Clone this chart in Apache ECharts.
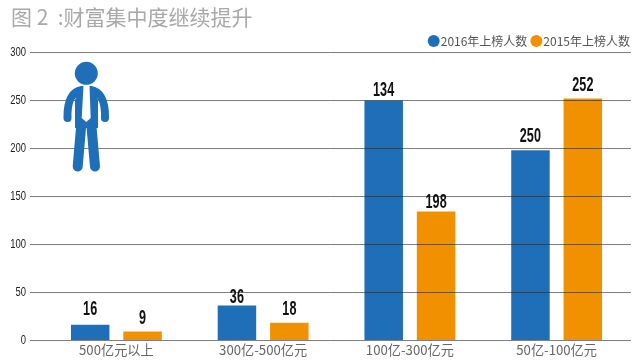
<!DOCTYPE html>
<html><head><meta charset="utf-8">
<style>html,body{margin:0;padding:0;background:#fff}#c{width:640px;height:362px}</style>
<script src="https://cdn.jsdelivr.net/npm/echarts@6/dist/echarts.min.js"></script>
</head><body><div id="c"></div>
<script>
const categories = ['500亿元以上','300亿-500亿元','100亿-300亿元','50亿-100亿元'];
const seriesNames = ['2016年上榜人数','2015年上榜人数'];
const heights2016 = [16,36,250,198];
const heights2015 = [9,18,134,252];
const labels2016 = ['16','36','134','250'];
const labels2015 = ['9','18','198','252'];
const yTicks = [0,50,100,150,200,250,300];
const BLUE='#1f6fb8', ORANGE='#f29100';
const CJK='"Noto Sans CJK SC","Noto Sans",sans-serif';
const SANS='"Liberation Sans",sans-serif';
const gridTop=52.5, gridH=287.5;
const chart=echarts.init(document.getElementById('c'),null,{renderer:'canvas'});
const fig='#1f6fb8';
// gap in px between each bar top and its label's digits, as hand-placed in the original
const gap2016=[8,1,3,7], gap2015=[6,6,2,6.5];
const DESCENT=3;
const valueLabels=(vals,labels,dx,gaps)=>({
  type:'custom',xAxisIndex:1,yAxisIndex:1,z:8,silent:true,
  data:vals.map((v,i)=>[i,v]),encode:{x:0,y:1},
  renderItem:(p,api)=>{
    const pt=api.coord([api.value(0),api.value(1)]);
    return {type:'text',x:pt[0]+dx,y:pt[1]-gaps[p.dataIndex]+DESCENT,scaleX:0.63,
      style:{text:labels[p.dataIndex],fill:'#111',font:'bold 20px '+SANS,textAlign:'center',textVerticalAlign:'bottom'}};
  }
});
chart.setOption({
  animation:false,
  title:{text:'图 2  :财富集中度继续提升',left:6,top:2,textStyle:{color:'#a8a8a8',fontFamily:CJK,fontWeight:'normal',fontSize:21}},
  legend:{right:5,top:30,icon:'circle',itemWidth:12,itemHeight:12,itemGap:3,data:seriesNames,
    textStyle:{color:'#555',fontFamily:CJK,fontSize:12,padding:[0,0,0,-4]}},
  grid:[{left:30,width:601,top:gridTop,height:gridH},{left:43,width:587,top:gridTop,height:gridH}],
  xAxis:[
    {gridIndex:0,type:'value',min:0,max:1,show:false},
    {gridIndex:1,type:'category',data:categories,axisLine:{show:false},axisTick:{show:false},
     axisLabel:{color:'#666',fontFamily:CJK,fontSize:13.2,margin:3}}
  ],
  yAxis:[
    {gridIndex:0,type:'value',min:0,max:300,interval:50,z:6,axisLine:{show:false},axisTick:{show:false},
     splitLine:{show:true,lineStyle:{color:'rgba(40,40,40,0.6)',width:1}},
     axisLabel:{show:false}},
    {gridIndex:1,type:'value',min:0,max:300,show:false,splitLine:{show:false}}
  ],
  series:[
    {name:seriesNames[0],type:'bar',xAxisIndex:1,yAxisIndex:1,data:heights2016,barWidth:38.5,barGap:'36%',itemStyle:{color:BLUE},z:2},
    {name:seriesNames[1],type:'bar',xAxisIndex:1,yAxisIndex:1,data:heights2015,barWidth:38.5,barGap:'36%',itemStyle:{color:ORANGE},z:2},
    valueLabels(heights2016,labels2016,-26.25,gap2016),
    valueLabels(heights2015,labels2015,26.25,gap2015),
    {type:'custom',xAxisIndex:0,yAxisIndex:0,z:8,silent:true,
     data:yTicks.map(v=>[0,v]),encode:{x:0,y:1},
     renderItem:(p,api)=>{
       const pt=api.coord([api.value(0),api.value(1)]);
       return {type:'text',x:pt[0]-4,y:pt[1],scaleX:0.7,
         style:{text:String(api.value(1)),fill:'#222',font:'13.5px '+SANS,textAlign:'right',textVerticalAlign:'middle'}};
     }}
  ],
  graphic:{elements:[
    {type:'circle',z:10,shape:{cx:86.3,cy:73.3,r:11.5},style:{fill:fig}},
    {type:'bezierCurve',z:10,shape:{x1:67.5,y1:118,cpx1:67,cpy1:100,cpx2:73,cpy2:91,x2:82,y2:90},style:{stroke:fig,fill:'none',lineWidth:8,lineCap:'round'}},
    {type:'bezierCurve',z:10,shape:{x1:105,y1:118,cpx1:105.5,cpy1:100,cpx2:99.5,cpy2:91,x2:90.5,y2:90},style:{stroke:fig,fill:'none',lineWidth:8,lineCap:'round'}},
    {type:'polygon',z:10,shape:{points:[[80,86.5],[92.5,86.5],[98,100],[98,128],[75,128],[75,100]]},style:{fill:fig}},
    {type:'line',z:10,shape:{x1:81,y1:128,x2:77.7,y2:166.5},style:{stroke:fig,lineWidth:10,lineCap:'round'}},
    {type:'line',z:10,shape:{x1:91.6,y1:128,x2:95,y2:166.5},style:{stroke:fig,lineWidth:10,lineCap:'round'}},
    {type:'polygon',z:11,shape:{points:[[83.5,86],[89.5,86],[90.7,118],[86.3,122],[81.7,118]]},style:{fill:'#fff'}}
  ]}
});
</script></body></html>
